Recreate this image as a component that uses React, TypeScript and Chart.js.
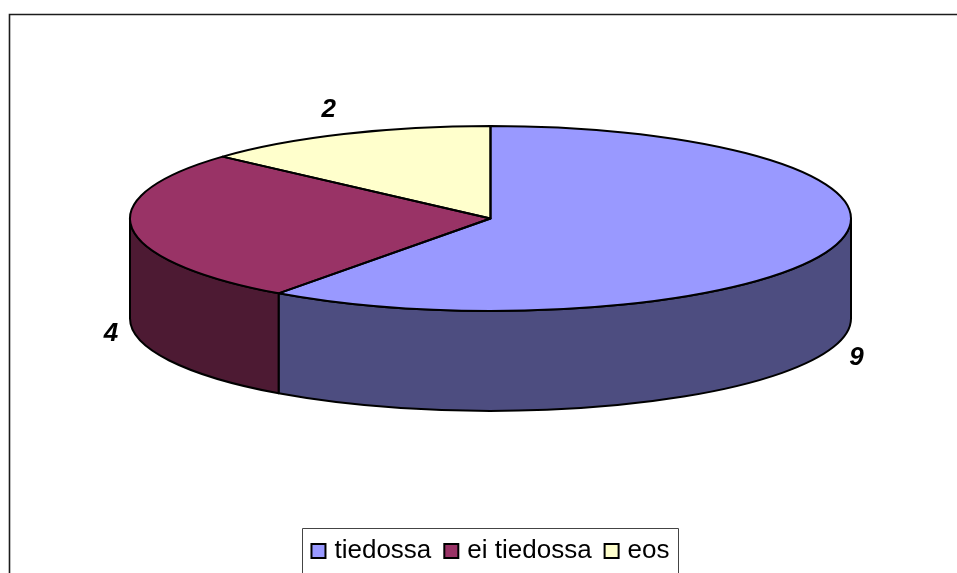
import React, { useEffect, useRef } from "react";
import { Chart, registerables } from "chart.js";

Chart.register(...registerables);

const categories = ["tiedossa", "ei tiedossa", "eos"];
const values = [9, 4, 2];
const topColors = ["#9999FF", "#993366", "#FFFFCC"];
const sideColors = ["#4D4D80", "#4D1A33", "#808066"];

const CENTER_X = 490.5;
const CENTER_Y = 218.5;
const RATIO = 92.5 / 360.5;
const DEPTH = 100;
const FONT = '"Liberation Sans", Arial, sans-serif';
const EDGE = 2;
const LABEL_NUDGE = [
  [-1, 4],
  [4, 0],
  [-5, 2],
];

const frame = {
  id: "frame",
  beforeDraw(chart: any) {
    const { ctx, width, height } = chart;
    ctx.save();
    ctx.strokeStyle = "#1c1c1c";
    ctx.lineWidth = 1.6;
    ctx.beginPath();
    ctx.moveTo(9.5, height);
    ctx.lineTo(9.5, 14.5);
    ctx.lineTo(width, 14.5);
    ctx.stroke();
    ctx.restore();
  },
};

const sides = {
  id: "pie3d",
  beforeDatasetsDraw(chart: any) {
    const { ctx } = chart;
    const arcs = chart.getDatasetMeta(0).data;
    // extruded wall: only the front half of the ellipse is visible
    arcs.forEach((a: any, i: number) => {
      const from = Math.max(a.startAngle, 0);
      const to = Math.min(a.endAngle, Math.PI);
      if (to <= from) return;
      const rx = a.outerRadius;
      const ry = rx * RATIO;
      ctx.save();
      ctx.beginPath();
      ctx.ellipse(CENTER_X, CENTER_Y, rx, ry, 0, from, to);
      ctx.lineTo(CENTER_X + rx * Math.cos(to), CENTER_Y + ry * Math.sin(to) + DEPTH);
      ctx.ellipse(CENTER_X, CENTER_Y + DEPTH, rx, ry, 0, to, from, true);
      ctx.closePath();
      ctx.fillStyle = sideColors[i];
      ctx.fill();
      ctx.strokeStyle = "#000";
      ctx.lineWidth = EDGE;
      ctx.lineJoin = "round";
      ctx.stroke();
      ctx.restore();
    });
    // move and squash the library's own pie into the top face
    const first = arcs[0];
    ctx.save();
    ctx.translate(CENTER_X - first.x, CENTER_Y);
    ctx.scale(1, RATIO);
    ctx.translate(0, -first.y);
  },
  afterDatasetsDraw(chart: any) {
    const { ctx } = chart;
    ctx.restore();
    const arcs = chart.getDatasetMeta(0).data;
    arcs.forEach((a: any) => {
      const rx = a.outerRadius;
      const ry = rx * RATIO;
      ctx.save();
      ctx.beginPath();
      ctx.moveTo(CENTER_X, CENTER_Y);
      ctx.ellipse(CENTER_X, CENTER_Y, rx, ry, 0, a.startAngle, a.endAngle);
      ctx.closePath();
      ctx.strokeStyle = "#000";
      ctx.lineWidth = EDGE;
      ctx.lineJoin = "round";
      ctx.stroke();
      ctx.restore();
    });
  },
};

const valueLabels = {
  id: "valueLabels",
  afterDraw(chart: any) {
    const { ctx } = chart;
    const arcs = chart.getDatasetMeta(0).data;
    ctx.save();
    ctx.font = `italic bold 26px ${FONT}`;
    ctx.fillStyle = "#000";
    ctx.textAlign = "center";
    ctx.textBaseline = "middle";
    arcs.forEach((a: any, i: number) => {
      const mid = (a.startAngle + a.endAngle) / 2;
      const rx = a.outerRadius * 1.07;
      const ry = rx * RATIO;
      const s = Math.sin(mid);
      const x = CENTER_X + rx * Math.cos(mid) + LABEL_NUDGE[i][0];
      const y = CENTER_Y + ry * s + (s > 0 ? DEPTH + 5 : -20) + LABEL_NUDGE[i][1];
      ctx.fillText(String(values[i]), x, y);
    });
    ctx.restore();
  },
};

const legendBox = {
  id: "legendBox",
  afterDraw(chart: any) {
    const { ctx, height } = chart;
    const hits = chart.legend.legendHitBoxes;
    if (!hits || !hits.length) return;
    const first = hits[0];
    const last = hits[hits.length - 1];
    const left = Math.round(first.left - 13) + 0.5;
    const right = Math.round(last.left + last.width + 8) + 0.5;
    const top = 528.5;
    ctx.save();
    ctx.strokeStyle = "#444";
    ctx.lineWidth = 1;
    ctx.beginPath();
    ctx.moveTo(left, height);
    ctx.lineTo(left, top);
    ctx.lineTo(right, top);
    ctx.lineTo(right, height);
    ctx.stroke();
    ctx.restore();
  },
};

export default function App() {
  const ref = useRef<HTMLCanvasElement>(null);
  useEffect(() => {
    const chart = new Chart(ref.current as HTMLCanvasElement, {
      type: "pie",
      data: {
        labels: categories,
        datasets: [
          {
            data: values,
            backgroundColor: topColors,
            borderWidth: 0,
            clip: false,
          } as any,
        ],
      },
      options: {
        responsive: false,
        animation: false,
        radius: 360.5,
        layout: { padding: { left: 28, right: 0, top: 0, bottom: -1 } },
        events: [],
        plugins: {
          tooltip: { enabled: false },
          legend: {
            position: "bottom",
            labels: {
              font: { family: FONT, size: 26 },
              color: "#000",
              usePointStyle: true,
              boxWidth: 6,
              boxHeight: 14,
              padding: 17,
              generateLabels: () =>
                categories.map((text, i) => ({
                  text,
                  fillStyle: topColors[i],
                  strokeStyle: "#000",
                  lineWidth: 2,
                  pointStyle: "rect",
                  hidden: false,
                  index: i,
                })),
            },
          },
        },
      } as any,
      plugins: [frame, sides, valueLabels, legendBox],
    });
    return () => chart.destroy();
  }, []);
  return (
    <div style={{ position: "fixed", left: 0, top: 0, width: 957, height: 573, background: "#fff" }}>
      <canvas ref={ref} width={957} height={573} style={{ display: "block" }} />
    </div>
  );
}
